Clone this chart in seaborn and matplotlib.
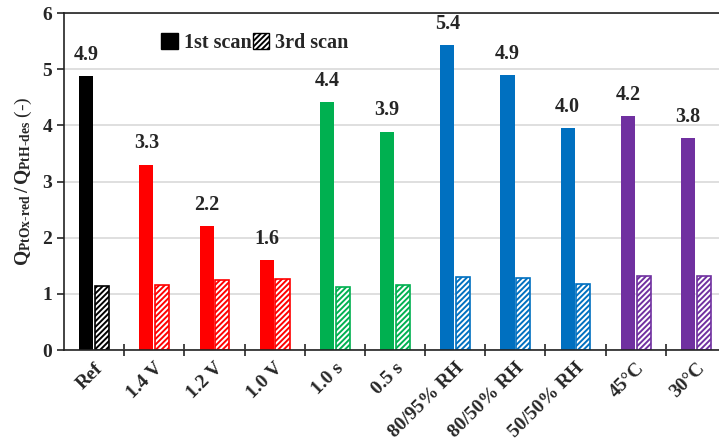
import pandas as pd
import seaborn as sns
import matplotlib.pyplot as plt
from matplotlib.patches import Patch
from matplotlib.ticker import MultipleLocator

categories = ['Ref', '1.4 V', '1.2 V', '1.0 V', '1.0 s', '0.5 s',
              '80/95% RH', '80/50% RH', '50/50% RH', '45°C', '30°C']
scan1 = [4.87, 3.30, 2.20, 1.60, 4.42, 3.89, 5.43, 4.89, 3.95, 4.17, 3.77]
scan3 = [1.14, 1.16, 1.25, 1.27, 1.12, 1.15, 1.30, 1.29, 1.18, 1.32, 1.31]
bar_colors = ['#000000', '#FF0000', '#FF0000', '#FF0000', '#00B050', '#00B050',
              '#0070C0', '#0070C0', '#0070C0', '#7030A0', '#7030A0']

df = pd.DataFrame({
    'cat': categories * 2,
    'val': scan1 + scan3,
    'scan': ['1st scan'] * len(categories) + ['3rd scan'] * len(categories),
})

sns.set_style('white')
plt.rcParams['font.family'] = ['Liberation Serif', 'DejaVu Serif']
plt.rcParams['font.weight'] = 'bold'
plt.rcParams['mathtext.fontset'] = 'custom'
plt.rcParams['mathtext.rm'] = 'Liberation Serif'
plt.rcParams['mathtext.it'] = 'Liberation Serif'
plt.rcParams['mathtext.bf'] = 'Liberation Serif:bold'
plt.rcParams['hatch.linewidth'] = 1.4

fig = plt.figure(figsize=(7.19, 4.48), dpi=100)
ax = fig.add_axes([64 / 719, 1 - 350 / 448, 662 / 719, 337 / 448])

sns.barplot(data=df, x='cat', y='val', hue='scan', order=categories,
            width=0.52, gap=0.1, ax=ax, legend=False, errorbar=None)

n = len(categories)
for i, p in enumerate(ax.patches[:2 * n]):
    c = bar_colors[i % n]
    if i < n:
        p.set_facecolor(c)
        p.set_edgecolor(c)
        p.set_linewidth(0)
        ax.text(p.get_x() + p.get_width() / 2, p.get_height() + 0.2,
                f'{scan1[i]:.1f}', ha='center', va='bottom',
                fontsize=14.5, fontweight='bold')
    else:
        p.set_facecolor('white')
        p.set_edgecolor(c)
        p.set_hatch('//////')
        p.set_linewidth(1.2)

ax.set_ylim(0, 6)
ax.set_xlim(-0.5, n - 0.5)
ax.yaxis.set_major_locator(MultipleLocator(1))
ax.grid(axis='y', color='#d9d9d9', linewidth=1.2)
ax.set_axisbelow(True)

for s in ['left', 'bottom', 'top']:
    ax.spines[s].set_color('#222222')
    ax.spines[s].set_linewidth(1.2)
ax.spines['right'].set_visible(False)

ax.set_xlabel('')
ax.set_ylabel(r'$\mathrm{Q}_{\mathrm{PtOx\text{-}red}}\,/\,\mathrm{Q}_{\mathrm{PtH\text{-}des}}$ (-)',
              fontsize=14, fontweight='normal', labelpad=6)
ax.tick_params(axis='y', labelsize=14, length=5, width=1.2, direction='out', left=True)
ax.set_xticks(range(n))
ax.set_xticklabels(categories, rotation=45, ha='right', rotation_mode='anchor',
                   fontsize=14, fontweight='bold')
ax.tick_params(axis='x', which='major', length=0, pad=7)
ax.set_xticks([i + 0.5 for i in range(n)], minor=True)
ax.tick_params(axis='x', which='minor', length=8, width=1.2, direction='inout', bottom=True)

handles = [Patch(facecolor='black', edgecolor='black', label='1st scan'),
           Patch(facecolor='white', edgecolor='black', hatch='//////', label='3rd scan')]
ax.legend(handles=handles, loc='upper left', bbox_to_anchor=(0.135, 0.965), ncol=2,
          frameon=False, fontsize=14.5, handlelength=0.8, handleheight=0.8,
          handletextpad=0.3, columnspacing=0.1, borderaxespad=0)

fig.savefig('out.png', dpi=100)
